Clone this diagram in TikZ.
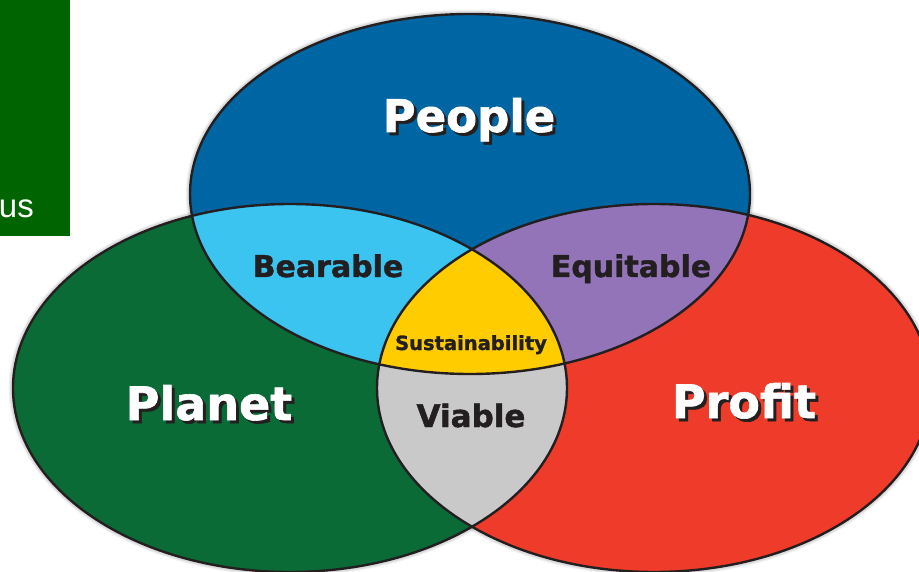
\documentclass[tikz,border=0pt]{standalone}
\usepackage{fontspec}
\setmainfont{DejaVu Sans}
\newfontfamily\boxfont{Liberation Sans}
\newfontfamily\heavyfont[BoldFeatures={FakeBold=1.3}]{DejaVu Sans}
\definecolor{peopleblue}{HTML}{0065A3}
\definecolor{planetgreen}{HTML}{0B6B37}
\definecolor{profitred}{HTML}{EF3B2A}
\definecolor{bearablecol}{HTML}{3BC4F0}
\definecolor{equitablecol}{HTML}{9474B9}
\definecolor{sustaincol}{HTML}{FFCC00}
\definecolor{viablecol}{HTML}{C9C9C9}
\definecolor{outlinecol}{HTML}{231F20}
\definecolor{boxgreen}{HTML}{006400}
\newcommand\shadowword[1]{\rlap{\kern3pt\raisebox{-3pt}{\textcolor{outlinecol}{#1}}}#1}
\tikzset{
  outline/.style={draw=outlinecol, line width=2.4pt},
  bigword/.style={anchor=base, inner sep=0pt, text=white, font=\heavyfont\bfseries\fontsize{46}{50}\selectfont},
  midword/.style={anchor=base, inner sep=0pt, text=outlinecol, font=\heavyfont\bfseries\fontsize{30}{34}\selectfont},
  smallword/.style={anchor=base, inner sep=0pt, text=outlinecol, font=\heavyfont\bfseries\fontsize{19.5}{22}\selectfont},
}
\begin{document}
\begin{tikzpicture}[x=1pt,y=-1pt]
\useasboundingbox (0,0) rectangle (919,572);
% side box
\fill[boxgreen] (0,0) rectangle (70,236);
\node[anchor=base east, inner sep=0pt, text=white, font=\boxfont\fontsize{33}{36}\selectfont] (us) at (34,218) {us};
% soft halo
\foreach \w/\o in {7pt/0.04,5pt/0.05,3.5pt/0.06}{
  \draw[black, opacity=\o, line width=\w] (470,194) ellipse [x radius=281pt, y radius=181pt];
  \draw[black, opacity=\o, line width=\w] (290,388) ellipse [x radius=278pt, y radius=185pt];
  \draw[black, opacity=\o, line width=\w] (654,388) ellipse [x radius=278pt, y radius=185pt];
}
% base fills
\fill[peopleblue] (470,194) ellipse [x radius=280pt, y radius=180pt];
\fill[planetgreen] (290,388) ellipse [x radius=277pt, y radius=184pt];
\fill[profitred] (654,388) ellipse [x radius=277pt, y radius=184pt];
% pairwise overlaps
\begin{scope}
  \clip (470,194) ellipse [x radius=280pt, y radius=180pt];
  \fill[bearablecol] (290,388) ellipse [x radius=277pt, y radius=184pt];
  \fill[equitablecol] (654,388) ellipse [x radius=277pt, y radius=184pt];
\end{scope}
\begin{scope}
  \clip (290,388) ellipse [x radius=277pt, y radius=184pt];
  \fill[viablecol] (654,388) ellipse [x radius=277pt, y radius=184pt];
  \clip (470,194) ellipse [x radius=280pt, y radius=180pt];
  \fill[sustaincol] (654,388) ellipse [x radius=277pt, y radius=184pt];
\end{scope}
% outlines
\draw[outline] (470,194) ellipse [x radius=280pt, y radius=180pt];
\draw[outline] (290,388) ellipse [x radius=277pt, y radius=184pt];
\draw[outline] (654,388) ellipse [x radius=277pt, y radius=184pt];
% big labels with drop shadow
\node[bigword, font=\heavyfont\bfseries\fontsize{45}{50}\selectfont] (people) at (469,132) {\shadowword{People}};
\node[bigword] (planet) at (209,420) {\shadowword{Planet}};
\node[bigword] (profit) at (744,418) {\shadowword{Profit}};
% overlap labels
\node[midword] (bearable) at (328,277) {Bearable};
\node[midword] (equitable) at (631,277) {Equitable};
\node[smallword] (sustain) at (471,350) {Sustainability};
\node[midword, font=\heavyfont\bfseries\fontsize{31}{34}\selectfont] (viable) at (471,427) {Viable};
\end{tikzpicture}
\end{document}
